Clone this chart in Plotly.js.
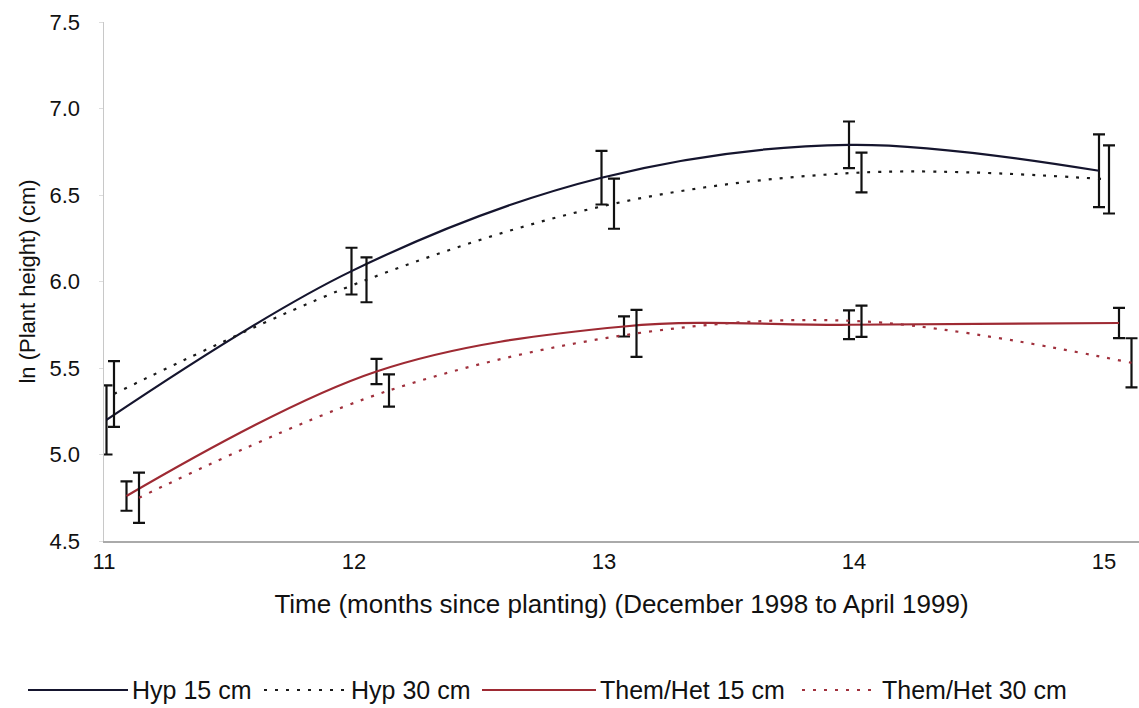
<!DOCTYPE html>
<html>
<head>
<meta charset="utf-8">
<script src="https://cdn.plot.ly/plotly-3.0.1.min.js"></script>
<style>html,body{margin:0;padding:0;background:#fff;}#chart{width:1139px;height:708px;}</style>
</head>
<body>
<div id="chart"></div>
<script>
// Series names
const seriesNames = ["Hyp 15 cm", "Hyp 30 cm", "Them/Het 15 cm", "Them/Het 30 cm"];
// Months since planting (each series slightly offset as in the original)
const xHyp15  = [11.01, 11.99, 12.99, 13.98, 14.98];
const xHyp30  = [11.04, 12.05, 13.04, 14.03, 15.02];
const xThem15 = [11.09, 12.09, 13.08, 13.98, 15.06];
const xThem30 = [11.14, 12.14, 13.13, 14.03, 15.11];
// ln(plant height) means
const yHyp15  = [5.20, 6.06, 6.60, 6.79, 6.64];
const yHyp30  = [5.35, 6.01, 6.45, 6.63, 6.59];
const yThem15 = [4.76, 5.48, 5.74, 5.75, 5.76];
const yThem30 = [4.75, 5.37, 5.70, 5.77, 5.53];
// error bar half-widths
const eHyp15  = [0.20, 0.135, 0.155, 0.135, 0.21];
const eHyp30  = [0.19, 0.13, 0.145, 0.115, 0.197];
const eThem15 = [0.085, 0.073, 0.058, 0.083, 0.087];
const eThem30 = [0.145, 0.093, 0.136, 0.09, 0.142];
// axis ticks
const xTicks = [11, 12, 13, 14, 15];
const yTicks = [4.5, 5.0, 5.5, 6.0, 6.5, 7.0, 7.5];

const styles = [
  {color: "#15152e", dash: "solid"},
  {color: "#1a1a1a", dash: "3px,8px"},
  {color: "#9e2a33", dash: "solid"},
  {color: "#a0303c", dash: "3px,8px"}
];
const xs = [xHyp15, xHyp30, xThem15, xThem30];
const ys = [yHyp15, yHyp30, yThem15, yThem30];
const es = [eHyp15, eHyp30, eThem15, eThem30];

const traces = [];
for (let i = 0; i < 4; i++) {
  traces.push({
    type: "scatter", mode: "lines", name: seriesNames[i],
    x: xs[i], y: ys[i],
    line: {color: styles[i].color, dash: styles[i].dash, width: 2.2, shape: "spline", smoothing: 1},
    error_y: {type: "data", array: es[i], visible: true, color: "#111", thickness: 2.2, width: 6},
    showlegend: false, hoverinfo: "skip"
  });
}

// custom legend (layout only)
const W = 1035, H = 519, L = 104, T = 22;
const px2x = p => (p - L) / W;
const py2y = p => (T + H - p) / H;
const legY = 690;
const legItems = [
  {x0: 28,  x1: 128, tx: 130},
  {x0: 264, x1: 347, tx: 349},
  {x0: 482, x1: 596, tx: 598},
  {x0: 802, x1: 878, tx: 880}
];
const shapes = [], annotations = [];
legItems.forEach((it, i) => {
  shapes.push({type: "line", xref: "paper", yref: "paper",
    x0: px2x(it.x0), x1: px2x(it.x1), y0: py2y(legY), y1: py2y(legY),
    line: {color: styles[i].color, width: 2.2, dash: styles[i].dash}});
  annotations.push({xref: "paper", yref: "paper", x: px2x(it.tx), y: py2y(legY),
    xanchor: "left", yanchor: "middle", showarrow: false, text: seriesNames[i],
    font: {family: "Liberation Sans, Arial, sans-serif", size: 25, color: "#111"}});
});

const layout = {
  width: 1139, height: 708,
  margin: {l: 104, r: 0, t: 22, b: 167},
  paper_bgcolor: "#fff", plot_bgcolor: "#fff",
  font: {family: "Liberation Sans, Arial, sans-serif", size: 22, color: "#111"},
  showlegend: false,
  xaxis: {
    range: [11, 15.14], tickvals: xTicks, ticktext: xTicks.map(String),
    showgrid: false, zeroline: false, showline: true, linecolor: "#aaa", linewidth: 1.5,
    ticks: "", ticklen: 0, tickfont: {size: 22},
    title: {text: "Time (months since planting) (December 1998 to April 1999)", font: {size: 26}, standoff: 22}
  },
  yaxis: {
    range: [4.5, 7.5], tickvals: yTicks, ticktext: yTicks.map(v => v.toFixed(1)),
    showgrid: false, zeroline: false, showline: true, linecolor: "#c8c8c8", linewidth: 1.5,
    ticks: "outside", ticklen: 4, tickcolor: "#ddd", tickfont: {size: 22}, ticklabelstandoff: 14,
    title: {text: "ln (Plant height) (cm)", font: {size: 22}, standoff: 8}
  },
  shapes: shapes, annotations: annotations
};

Plotly.newPlot("chart", traces, layout, {displayModeBar: false, staticPlot: true});
</script>
</body>
</html>
